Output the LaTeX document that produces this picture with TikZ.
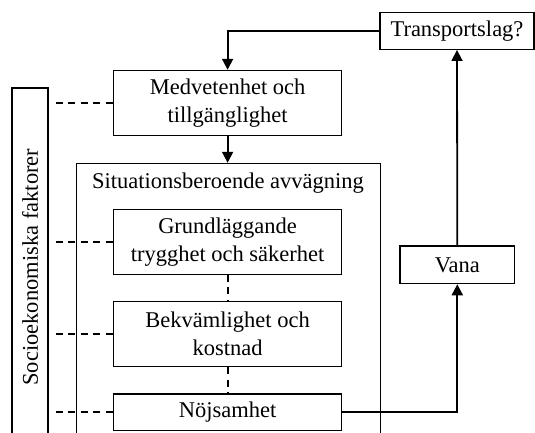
\documentclass[tikz,border=0pt]{standalone}
\usepackage{fontspec}
\setmainfont{Liberation Serif}
\usetikzlibrary{arrows.meta,positioning,calc}
\begin{document}
\begin{tikzpicture}[x=1pt,y=-1pt,
  every node/.style={font=\fontsize{22.5}{28}\selectfont, inner sep=0pt},
  box/.style={draw, line width=1.4pt, align=center},
  conn/.style={line width=1.8pt},
  arr/.style={conn, -{Triangle[length=11pt,width=11pt]}},
  dsh/.style={line width=1.8pt, dash pattern=on 7pt off 5.5pt}]
\useasboundingbox (0,0) rectangle (535,432);
\clip (0,0) rectangle (535,432);
% boxes
\node[box, minimum width=154, minimum height=36.5] (tr) at (457,31) {Transportslag?};
\node[box, minimum width=228, minimum height=65] (med) at (227.6,103) {Medvetenhet och\\tillgänglighet};
\node[box, minimum width=304, minimum height=300, anchor=north west] (sit) at (75.8,162.8) {};
\node (sittitle) at (228,183) {Situationsberoende avvägning};
\node[box, minimum width=228, minimum height=64.5] (gr) at (227.6,242) {Grundläggande\\trygghet och säkerhet};
\node[box, minimum width=228, minimum height=64.8] (bk) at (227.6,334) {Bekvämlighet och\\kostnad};
\node[box, minimum width=228, minimum height=36.5] (nj) at (227.6,412.3) {Nöjsamhet};
\node[box, minimum width=114.5, minimum height=37.5] (va) at (457.3,264.8) {Vana};
\node[box, minimum width=36, minimum height=358, anchor=north west] (soc) at (11.3,87.4) {};
\node[rotate=90] (soctext) at (soc.center) {Socioekonomiska faktorer};
% arrows
\draw[arr] (tr.west) -| (med.north);
\draw[arr] (med.south) -- (med.south |- sit.north);
\draw[arr] (nj.east) -| (va.south);
\draw[arr] (va.north) -- (tr.south);
% dashed
\coordinate (d1) at ($(soc.east |- med.west)+(7,0)$);
\coordinate (d2) at ($(soc.east |- gr.west)+(7,0)$);
\coordinate (d3) at ($(soc.east |- bk.west)+(7,0)$);
\coordinate (d4) at ($(soc.east |- nj.west)+(7,0)$);
\draw[dsh] (d1) -- (med.west);
\draw[dsh] (d2) -- (gr.west);
\draw[dsh] (d3) -- (bk.west);
\draw[dsh] (d4) -- (nj.west);
\draw[dsh] (gr.south) -- (bk.north);
\draw[dsh] (bk.south) -- (nj.north);
\end{tikzpicture}
\end{document}
